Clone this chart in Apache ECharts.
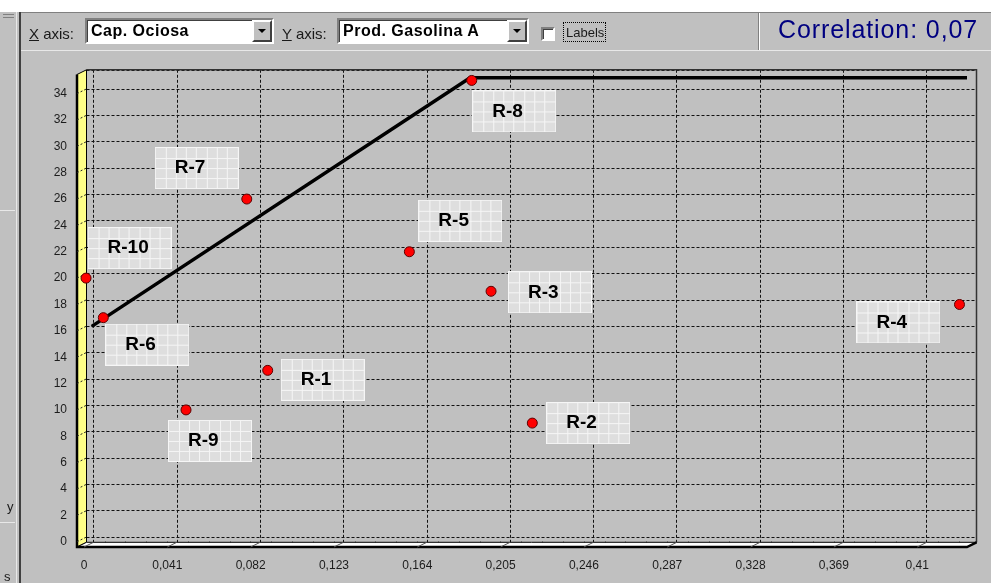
<!DOCTYPE html>
<html>
<head>
<meta charset="utf-8">
<title>Cap. Ociosa x Prod. Gasolina A</title>
<script src="https://cdn.jsdelivr.net/npm/echarts@6.0.0/dist/echarts.min.js"></script>
<style>
    html, body { margin: 0; padding: 0; width: 991px; height: 583px; overflow: hidden; background: #c0c0c0; font-family: Arial, "Liberation Sans", sans-serif; }
    #chart { position: absolute; left: 0; top: 0; width: 991px; height: 583px; }
    .ui { position: absolute; z-index: 2; }
    .lbl { font-size: 15px; color: #1a1a1a; white-space: nowrap; }
    .combo { background: #fff; box-sizing: border-box; border: 2px solid; border-color: #808080 #fff #fff #808080; box-shadow: inset 1px 1px 0 #404040; }
    .combo span { position: absolute; left: 4px; top: 0; line-height: 22px; font-size: 16px; font-weight: bold; letter-spacing: 0.5px; color: #000; white-space: nowrap; }
    .arrow { background: #c0c0c0; box-sizing: border-box; border: 2px solid; border-color: #fff #404040 #404040 #fff; }
    .arrow i { position: absolute; left: 4px; top: 7px; width: 0; height: 0; border-left: 4px solid transparent; border-right: 4px solid transparent; border-top: 4px solid #000; }
</style>
</head>
<body>
<div id="chart"></div>

<!-- window chrome / toolbar -->
<div class="ui" style="left:0;top:0;width:991px;height:12px;background:#fff"></div>
<div class="ui" style="left:20px;top:12px;width:971px;height:1px;background:#808080"></div>
<div class="ui" style="left:20px;top:50px;width:971px;height:1px;background:#e8e8e8"></div>
<div class="ui" style="left:16px;top:12px;width:1px;height:571px;background:#e8e8e8"></div>
<div class="ui" style="left:19px;top:12px;width:2px;height:571px;background:#404040"></div>
<div class="ui" style="left:3px;top:14px;width:11px;height:1px;background:#808080"></div>
<div class="ui" style="left:3px;top:17px;width:11px;height:1px;background:#808080"></div>
<div class="ui" style="left:0;top:210px;width:15px;height:1px;background:#e8e8e8"></div>
<div class="ui" style="left:0;top:522px;width:15px;height:1px;background:#e8e8e8"></div>
<div class="ui lbl" style="left:7px;top:499px;font-size:13px">y</div>
<div class="ui lbl" style="left:4px;top:569px;font-size:13px">s</div>

<div class="ui lbl" style="left:29px;top:25px"><u>X</u> axis:</div>
<div class="ui combo" style="left:85px;top:18px;width:189px;height:26px"><span>Cap. Ociosa</span></div>
<div class="ui arrow" style="left:252px;top:20px;width:20px;height:22px"><i></i></div>

<div class="ui lbl" style="left:282px;top:25px"><u>Y</u> axis:</div>
<div class="ui combo" style="left:337px;top:18px;width:192px;height:26px"><span>Prod. Gasolina A</span></div>
<div class="ui arrow" style="left:507px;top:20px;width:20px;height:22px"><i></i></div>

<div class="ui" style="left:541px;top:27px;width:14px;height:14px;box-sizing:border-box;background:#fff;border:2px solid;border-color:#808080 #fff #fff #808080;box-shadow:inset 1px 1px 0 #404040"></div>
<div class="ui" style="left:563px;top:22px;width:43px;height:20px;box-sizing:border-box;border:1px dotted #000"></div>
<div class="ui lbl" style="left:566px;top:25px;font-size:13px">Labels</div>

<div class="ui" style="left:758px;top:13px;width:1px;height:37px;background:#808080"></div>
<div class="ui" style="left:759px;top:13px;width:1px;height:37px;background:#fff"></div>
<div class="ui" style="left:778px;top:15px;font-size:25px;letter-spacing:0.9px;color:#000080;white-space:nowrap">Correlation: 0,07</div>

<script>
// units (DMUs)
var unitNames = ['R-1', 'R-2', 'R-3', 'R-4', 'R-5', 'R-6', 'R-7', 'R-8', 'R-9', 'R-10'];
// Cap. Ociosa
var capOciosa = [0.0904, 0.2206, 0.2003, 0.4308, 0.1601, 0.0095, 0.0801, 0.1908, 0.0502, 0.001];
// Prod. Gasolina A
var prodGasolina = [13, 9, 19, 18, 22, 17, 26, 35, 10, 20];

// frontier line
var frontierX = [0.0038, 0.190, 0.4345];
var frontierY = [16.34, 35.2, 35.2];

// axis ticks
var xTickValues = [0, 0.041, 0.082, 0.123, 0.164, 0.205, 0.246, 0.287, 0.328, 0.369, 0.41];
var xTickLabels = ['0', '0,041', '0,082', '0,123', '0,164', '0,205', '0,246', '0,287', '0,328', '0,369', '0,41'];
var yTickValues = [0, 2, 4, 6, 8, 10, 12, 14, 16, 18, 20, 22, 24, 26, 28, 30, 32, 34];
var yTickLabels = ['0', '2', '4', '6', '8', '10', '12', '14', '16', '18', '20', '22', '24', '26', '28', '30', '32', '34'];

var X_MAX = 0.4345;
var Y_MAX = 35.45;

// where each mark box sits relative to its point (box centre, px)
var markOffsets = [[55, 9.5], [56, 0], [59, 1], [-61, 18], [51, -31], [44, 27], [-50, -31], [42.5, 31], [24, 31], [43.5, -30]];

// 3D depth of the TeeChart walls
var DX = 9.5, DY = -4.7;

// grid-paper background of the marks
var tile = document.createElement('canvas');
tile.width = 84;
tile.height = 42;
(function () {
    var g = tile.getContext('2d');
    g.fillStyle = '#dedede';
    g.fillRect(0, 0, 84, 42);
    g.strokeStyle = '#f6f6f6';
    g.lineWidth = 1;
    for (var x = 10.5; x < 84; x += 10.3) {
        g.beginPath(); g.moveTo(Math.round(x) + 0.5, 0); g.lineTo(Math.round(x) + 0.5, 42); g.stroke();
    }
    for (var y = 10.5; y < 42; y += 10.3) {
        g.beginPath(); g.moveTo(0, Math.round(y) + 0.5); g.lineTo(84, Math.round(y) + 0.5); g.stroke();
    }
    g.strokeRect(0.5, 0.5, 83, 41);
})();

function labelFor(values, labels) {
    return function (v) {
        for (var i = 0; i < values.length; i++) {
            if (Math.abs(values[i] - v) < 1e-7) return labels[i];
        }
        return '';
    };
}

var points = unitNames.map(function (n, i) {
    return {
        name: n,
        value: [capOciosa[i], prodGasolina[i]],
        label: { offset: [markOffsets[i][0] - 42, markOffsets[i][1]] }
    };
});

var frontier = frontierX.map(function (x, i) { return [x, frontierY[i]]; });

var gridDash = { color: '#111', width: 1, type: [3, 2] };

// front plane: value 0 at x=84 / y=541.7
var F = { left: 84, top: 74.5, width: 883, height: 467.2 };
var FB = F.top + F.height + 5.3;   // front bottom edge

var option = {
    animation: false,
    backgroundColor: 'transparent',
    textStyle: { fontFamily: 'Arial, "Liberation Sans", sans-serif' },
    grid: [
        { left: F.left, top: F.top, width: F.width, height: F.height },
        // back wall, horizontal lines
        { left: F.left - 7 + DX, top: F.top + DY, width: F.width + 7, height: F.height },
        // back wall, vertical lines
        { left: F.left + DX, top: F.top + DY, width: F.width, height: F.height + 5.3 }
    ],
    xAxis: [
        {
            gridIndex: 0, type: 'value', min: 0, max: X_MAX, interval: 0.041,
            offset: 5.3,
            axisLine: { show: false },
            axisTick: { show: true, length: 5, customValues: xTickValues, lineStyle: { color: '#000' } },
            minorTick: { show: true, splitNumber: 4, length: 3, lineStyle: { color: '#000' } },
            splitLine: { show: false },
            axisLabel: {
                margin: 13, fontSize: 12, color: '#1c1c1c',
                customValues: xTickValues,
                formatter: labelFor(xTickValues, xTickLabels)
            }
        },
        { gridIndex: 1, type: 'value', min: 0, max: 1, show: false },
        {
            gridIndex: 2, type: 'value', min: 0, max: X_MAX, interval: 0.041,
            axisLine: { show: false }, axisTick: { show: false }, axisLabel: { show: false },
            splitLine: { show: true, lineStyle: gridDash }
        }
    ],
    yAxis: [
        {
            gridIndex: 0, type: 'value', min: 0, max: Y_MAX, interval: 2,
            offset: 7,
            axisLine: { show: false },
            axisTick: { show: true, length: 6, customValues: yTickValues, lineStyle: { color: '#000' } },
            splitLine: { show: false },
            axisLabel: {
                margin: 10, fontSize: 12, color: '#1c1c1c',
                customValues: yTickValues,
                formatter: labelFor(yTickValues, yTickLabels)
            }
        },
        {
            gridIndex: 1, type: 'value', min: 0, max: Y_MAX, interval: 2,
            axisLine: { show: false }, axisTick: { show: false }, axisLabel: { show: false },
            splitLine: { show: true, lineStyle: gridDash }
        },
        { gridIndex: 2, type: 'value', min: 0, max: 1, show: false }
    ],
    graphic: [
        // back wall border
        { type: 'polyline', z: 1, silent: true,
          shape: { points: [[F.left - 7 + DX, F.top + DY], [F.left + F.width + DX, F.top + DY], [F.left + F.width + DX, FB + DY]] },
          style: { stroke: '#333', lineWidth: 1.5, fill: null } },
        // left wall
        { type: 'polygon', z: 1, silent: true,
          shape: { points: [[F.left - 7, F.top], [F.left - 7 + DX, F.top + DY], [F.left - 7 + DX, FB + DY], [F.left - 7, FB]] },
          style: { fill: '#ffff88', stroke: '#000', lineWidth: 1 } },
        // floor
        { type: 'polygon', z: 1, silent: true,
          shape: { points: [[F.left - 7, FB], [F.left - 7 + DX, FB + DY], [F.left + F.width + DX, FB + DY], [F.left + F.width, FB]] },
          style: { fill: '#ffffff', stroke: '#000', lineWidth: 1 } },
        // front edges
        { type: 'polyline', z: 1, silent: true,
          shape: { points: [[F.left - 7, F.top], [F.left - 7, FB], [F.left + F.width, FB], [F.left + F.width + DX, FB + DY]] },
          style: { stroke: '#000', lineWidth: 2.5, fill: null } }
    ],
    series: [
        {
            // grid lines running across the left wall
            type: 'custom', xAxisIndex: 0, yAxisIndex: 0, z: 2, silent: true,
            data: yTickValues.map(function (v) { return [0, v]; }),
            renderItem: function (params, api) {
                var p = api.coord([0, api.value(1)]);
                return { type: 'line', shape: { x1: p[0] - 7, y1: p[1], x2: p[0] - 7 + DX, y2: p[1] + DY },
                         style: { stroke: '#222', lineWidth: 1, lineDash: [2, 2] } };
            }
        },
        {
            // grid lines running across the floor
            type: 'custom', xAxisIndex: 0, yAxisIndex: 0, z: 2, silent: true,
            data: xTickValues.map(function (v) { return [v, 0]; }),
            renderItem: function (params, api) {
                var p = api.coord([api.value(0), 0]);
                return { type: 'line', shape: { x1: p[0], y1: p[1] + 5.3, x2: p[0] + DX, y2: p[1] + 5.3 + DY },
                         style: { stroke: '#555', lineWidth: 1 } };
            }
        },
        {
            type: 'line', xAxisIndex: 0, yAxisIndex: 0, z: 3, silent: true,
            data: frontier, symbol: 'none',
            lineStyle: { color: '#000', width: 3.5 }
        },
        {
            type: 'scatter', xAxisIndex: 0, yAxisIndex: 0, z: 4, silent: true,
            data: points,
            symbol: 'circle', symbolSize: 10,
            itemStyle: { color: '#ff0000', borderColor: '#5a0000', borderWidth: 1, opacity: 1 },
            label: {
                show: true, position: 'inside', formatter: '{b}',
                fontFamily: 'Arial, "Liberation Sans", sans-serif', fontWeight: 'bold', fontSize: 19,
                color: '#000', textBorderWidth: 0, opacity: 1,
                align: 'left', verticalAlign: 'middle',
                width: 64, height: 42, lineHeight: 42, padding: [0, 0, 0, 20],
                backgroundColor: { image: tile }
            }
        }
    ]
};

var chart = echarts.init(document.getElementById('chart'), null, { renderer: 'canvas' });
chart.setOption(option);
</script>
</body>
</html>
